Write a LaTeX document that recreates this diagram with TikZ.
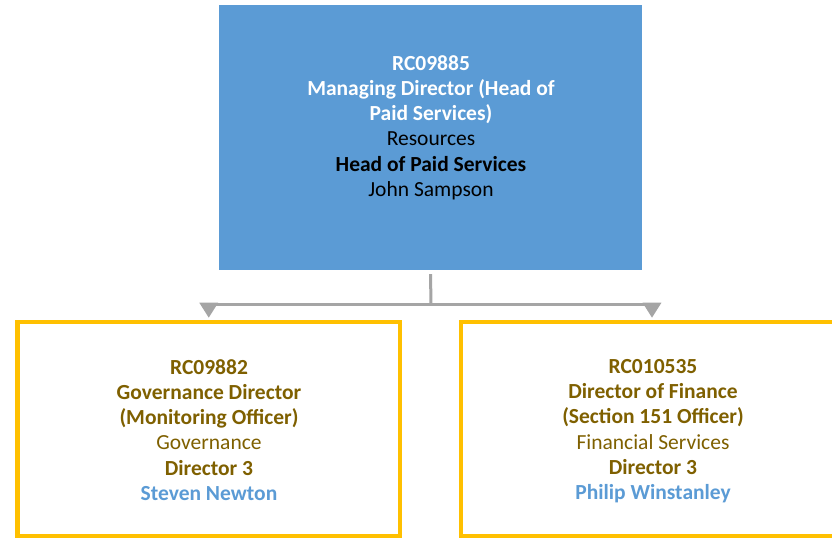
\documentclass[tikz,border=0pt]{standalone}
\usepackage{fontspec}
\setmainfont{Carlito}
\usetikzlibrary{arrows.meta}
\definecolor{topblue}{HTML}{5B9BD5}
\definecolor{gold}{HTML}{FFC000}
\definecolor{brown}{HTML}{7F6000}
\definecolor{conngray}{HTML}{A5A5A5}
\tikzset{
  txt/.style={align=center, anchor=north, font=\fontsize{21.5bp}{25.3bp}\selectfont, inner sep=0pt},
  yellowbox/.style={draw=gold, line width=4.5bp, minimum width=382bp, minimum height=214bp, inner sep=0pt},
  conn/.style={draw=conngray, line width=3bp, -{Triangle[width=18bp,length=15bp]}},
}
\begin{document}
\begin{tikzpicture}[x=1bp,y=-1bp]
\useasboundingbox (0,0) rectangle (832,538);
\clip (0,0) rectangle (832,538);
\fill[white] (0,0) rectangle (832,538);
\node[fill=topblue, minimum width=423bp, minimum height=265bp, inner sep=0pt] (top) at (430.5,137.5) {};
\node[txt] (toptxt) at (431,55) {\textcolor{white}{\bfseries RC09885}\\\textcolor{white}{\bfseries Managing Director (Head of}\\\textcolor{white}{\bfseries Paid Services)}\\Resources\\\textbf{Head of Paid Services}\\John Sampson};
\node[yellowbox] (left) at (208.75,429) {};
\node[yellowbox] (right) at (652,429) {};
\node[txt, text=brown] (lefttxt) at (209,359) {\textbf{RC09882}\\\textbf{Governance Director}\\\textbf{(Monitoring Officer)}\\Governance\\\textbf{Director 3}\\\textcolor{topblue}{\bfseries Steven Newton}};
\node[txt, text=brown] (righttxt) at (653,359) {\textbf{RC010535}\\\textbf{Director of Finance}\\\textbf{(Section 151 Officer)}\\Financial Services\\\textbf{Director 3}\\\textcolor{topblue}{\bfseries Philip Winstanley}};
\coordinate (hub) at (431,304);
\draw[conngray, line width=3bp] ([yshift=-4bp]top.south) -- (hub);
\draw[conn] (hub) -| ([yshift=2bp]left.north);
\draw[conn] (hub) -| ([yshift=2bp]right.north);
\end{tikzpicture}
\end{document}
